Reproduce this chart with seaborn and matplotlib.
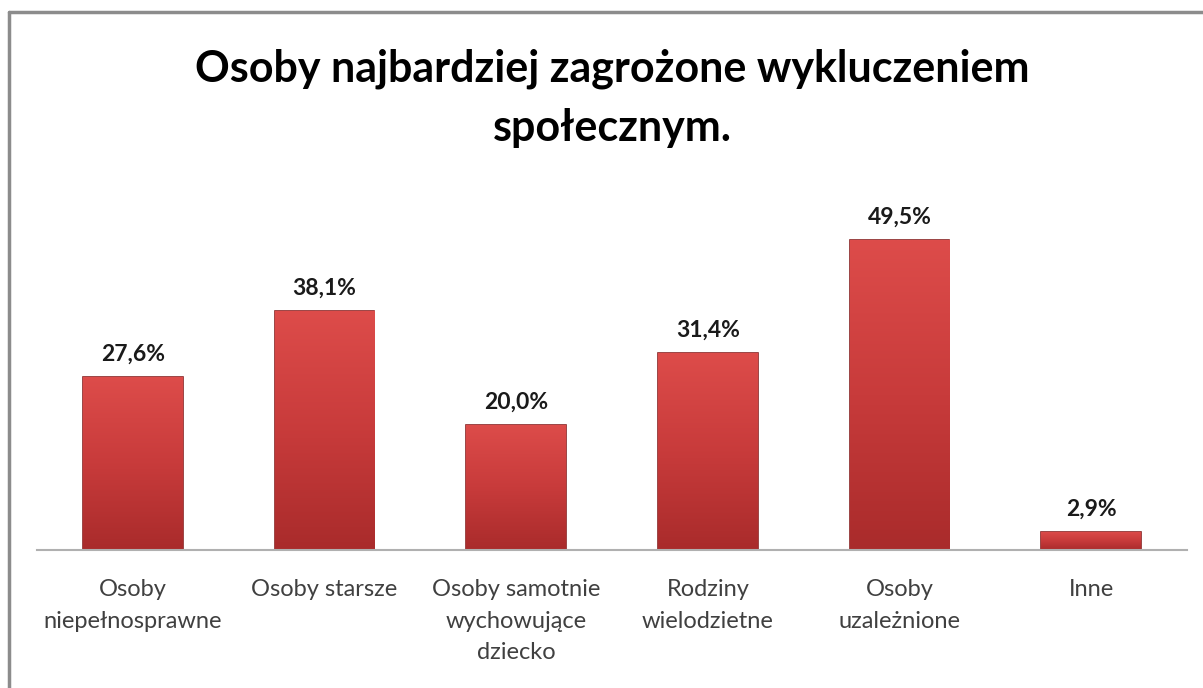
import numpy as np
import pandas as pd
import matplotlib
matplotlib.use("Agg")
import matplotlib.pyplot as plt
from matplotlib.lines import Line2D
import seaborn as sns

# Data
categories = [
    "Osoby\nniepełnosprawne",
    "Osoby starsze",
    "Osoby samotnie\nwychowujące\ndziecko",
    "Rodziny\nwielodzietne",
    "Osoby\nuzależnione",
    "Inne",
]
values = [27.6, 38.1, 20.0, 31.4, 49.5, 2.9]
title = "Osoby najbardziej zagrożone wykluczeniem\nspołecznym."

sns.set_theme(style="white")
plt.rcParams["font.family"] = ["Lato", "DejaVu Sans"]

df = pd.DataFrame({"kategoria": categories, "procent": values})

fig = plt.figure(figsize=(12.03, 6.88), dpi=100)
ax = fig.add_axes([37 / 1203, 138 / 688, 1150 / 1203, 360 / 688])

sns.barplot(data=df, x="kategoria", y="procent", color="#c93a3a",
            width=0.52, saturation=1, ax=ax, zorder=2)

# Gradient fill on every bar, top lighter than bottom
grad = np.linspace(0, 1, 256).reshape(-1, 1)
cmap = matplotlib.colors.LinearSegmentedColormap.from_list(
    "red_bar", ["#a92b2b", "#c83b3b", "#dd4c4a"])
for patch in ax.patches:
    x0, y0 = patch.get_x(), patch.get_y()
    w, h = patch.get_width(), patch.get_height()
    im = ax.imshow(grad, cmap=cmap, aspect="auto", origin="lower",
                   extent=[x0, x0 + w, y0, y0 + h], zorder=3)
    im.set_clip_path(patch)
    patch.set_edgecolor("#8a2424")
    patch.set_linewidth(1.2)

ax.set_xlim(-0.5, len(categories) - 0.5)
ax.set_ylim(0, 57.5)

labels = [f"{v:.1f}%".replace(".", ",") for v in values]
ax.bar_label(ax.containers[0], labels=labels, padding=9,
             fontsize=16.5, fontweight="bold", color="#1a1a1a")
# bring labels above the gradient images
for t in ax.texts:
    t.set_zorder(5)

ax.set_xlabel("")
ax.set_ylabel("")
ax.set_yticks([])
ax.tick_params(axis="x", length=0, pad=21, labelsize=17, labelcolor="#404040")
for lbl in ax.get_xticklabels():
    lbl.set_linespacing(1.62)

sns.despine(ax=ax, left=True)
ax.spines["bottom"].set_color("#b0b0b0")
ax.spines["bottom"].set_linewidth(1.5)
ax.spines["bottom"].set_zorder(4)

fig.text(0.509, 0.93, title, ha="center", va="top", fontsize=31,
         fontweight="bold", color="#000000", linespacing=1.6)

# outer chart frame (top and left visible, rest cut off)
fig.add_artist(Line2D([9 / 1203, 9 / 1203], [0, 1 - 12 / 688],
                      transform=fig.transFigure, color="#8c8c8c", lw=2.5))
fig.add_artist(Line2D([9 / 1203, 1], [1 - 12 / 688, 1 - 12 / 688],
                      transform=fig.transFigure, color="#8c8c8c", lw=2.5))

fig.savefig("out.png", dpi=100, facecolor="white")
